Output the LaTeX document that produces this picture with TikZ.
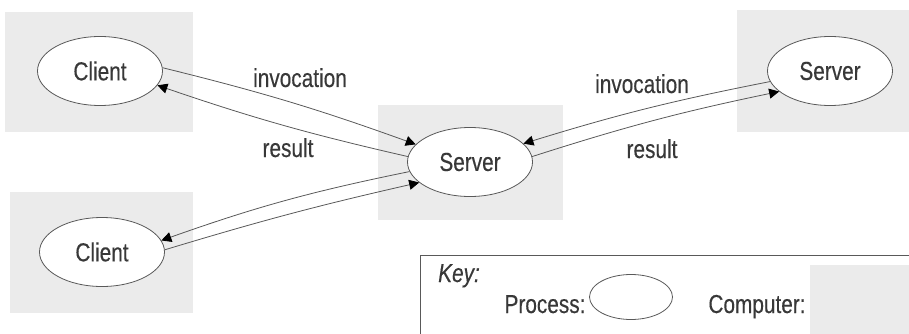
\documentclass[tikz,border=0pt]{standalone}
\usepackage{fontspec}
\setmainfont{Liberation Sans}[FakeStretch=0.8,FakeBold=0.3]
\usetikzlibrary{shapes.geometric,arrows.meta}
\definecolor{machine}{gray}{0.92}
\definecolor{ink}{gray}{0.22}
\definecolor{wire}{gray}{0.35}
\tikzset{
  machine/.style={fill=machine},
  proc/.style={ellipse, draw=wire, line width=0.8pt, fill=white,
    minimum width=125pt, minimum height=69pt, inner sep=0pt,
    text=ink, font=\fontsize{26}{28}\selectfont},
  lbl/.style={text=ink, inner sep=0pt, anchor=base, font=\fontsize{26}{28}\selectfont},
  link/.style={draw=wire, line width=0.8pt,
    -{Triangle[length=10pt,width=10pt,color=black]}}
}
\begin{document}
\begin{tikzpicture}[x=1pt,y=1pt]
\useasboundingbox (0,0) rectangle (909,-334);
\clip (0,0) rectangle (909,-334);
% computers
\fill[machine] (5,-12) rectangle (193,-132);
\fill[machine] (10,-192) rectangle (193,-313);
\fill[machine] (378,-105) rectangle (563,-220);
\fill[machine] (737,-10) rectangle (915,-132);
% processes
\node[proc] (c1) at (100,-71) {Client};
\node[proc] (srv) at (470,-162) {Server};
\node[proc] (s2) at (830,-71) {Server};
\node[proc] (c2) at (102,-252) {Client};
% invocations and results
\draw[link] (c1.3) to[bend left=3] (srv.162);
\draw[link] (srv.175) to[bend left=3] (c1.-14);
\draw[link] (srv.189) to[bend right=4] (c2.11);
\draw[link] (c2.2) to[bend left=2] (srv.202);
\draw[link] (s2.190) to[bend right=3] (srv.19);
\draw[link] (srv.5) to[bend left=3] (s2.202);
\node[lbl] (inv1) at (300,-87) {invocation};
\node[lbl] (res1) at (288,-157) {result};
\node[lbl] (inv2) at (642,-93) {invocation};
\node[lbl] (res2) at (652,-158) {result};
% key
\draw[wire, line width=0.8pt] (420,-340) -- (420,-255) -- (915,-255);
\fill[machine] (810,-265) rectangle (915,-340);
\node[lbl, anchor=base west, font=\fontsize{26}{28}\selectfont\itshape] (key) at (438,-282) {Key:};
\node[lbl] (proclbl) at (545,-313) {Process:};
\node[proc, minimum width=83pt, minimum height=45pt] (procsym) at (631,-297) {};
\node[lbl] (complbl) at (757,-313) {Computer:};
\end{tikzpicture}
\end{document}
